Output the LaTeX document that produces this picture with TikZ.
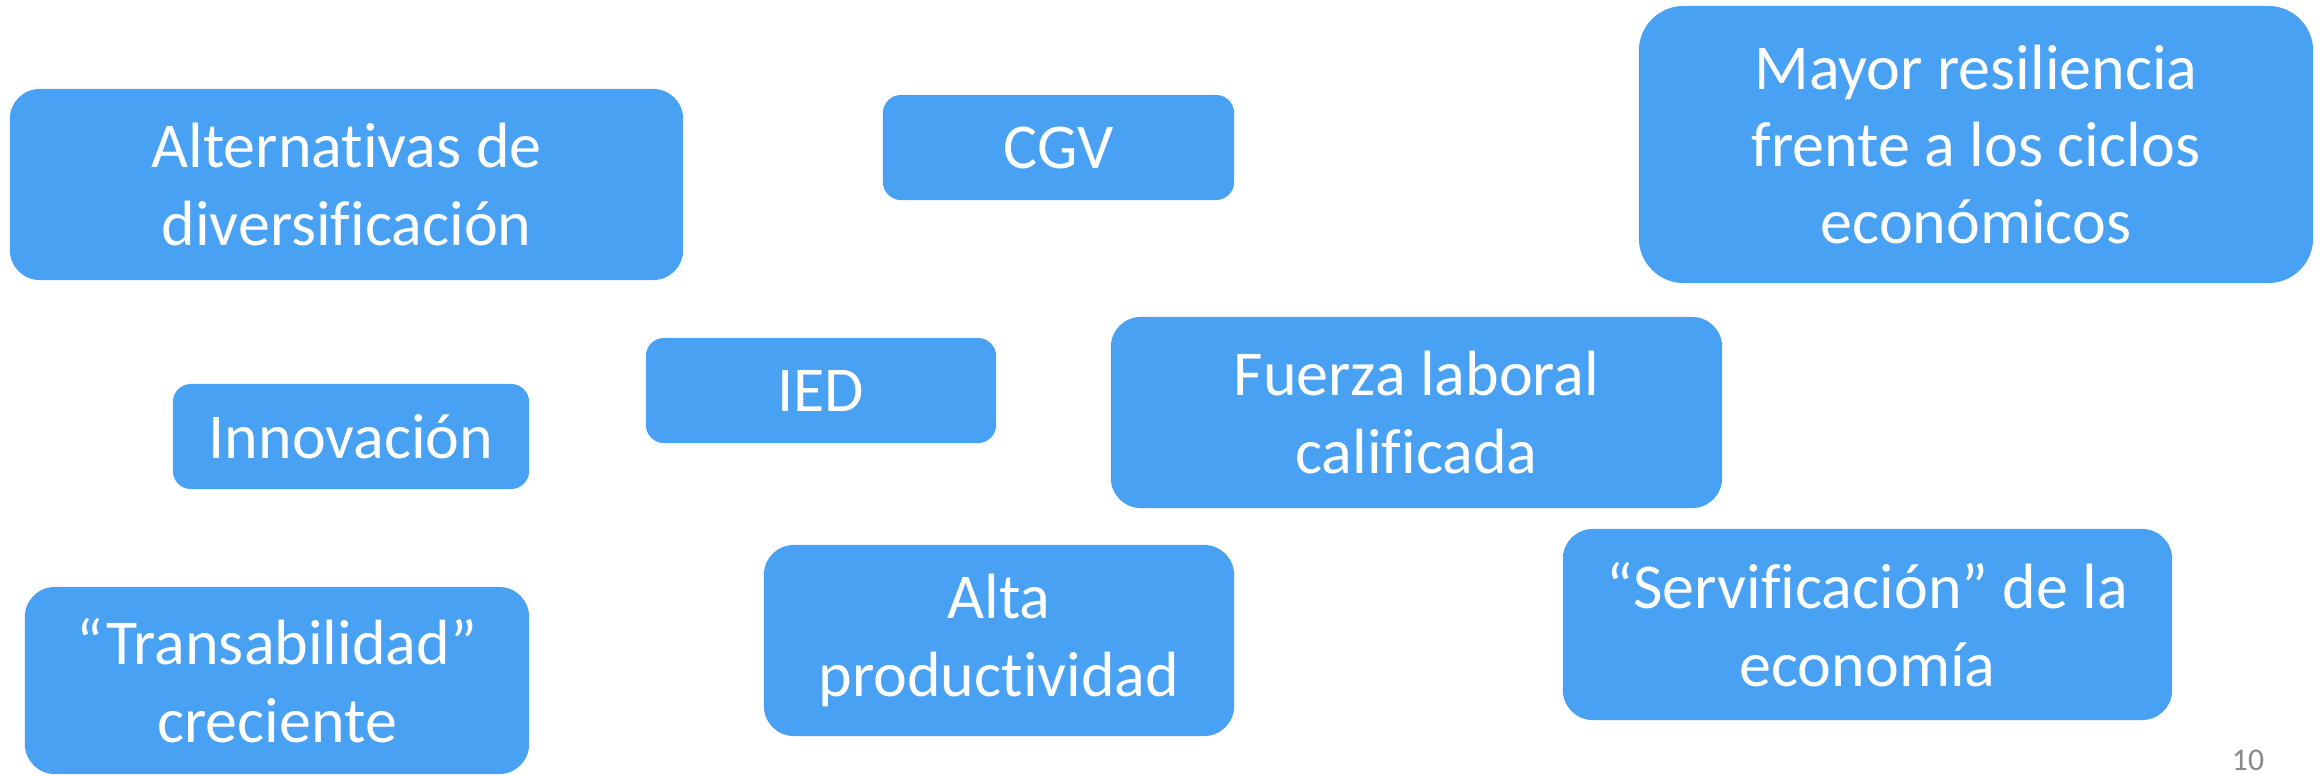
\documentclass[tikz,border=0pt]{standalone}
\usepackage{fontspec}
\setmainfont{Carlito}[Ligatures={NoCommon}]
\definecolor{boxblue}{RGB}{73,161,244}
\definecolor{pagegray}{RGB}{137,137,137}
\tikzset{
  bbox/.style={fill=boxblue, draw=none, text=white, align=center, inner sep=0pt,
    font=\fontsize{18.2}{22}\selectfont},
}
\begin{document}
\begin{tikzpicture}[x=0.01cm,y=-0.01cm]
\useasboundingbox (0,0) rectangle (2323,775);
\node[bbox, rounded corners=0.3cm, minimum width=6.73cm, minimum height=1.91cm] (alt) at (346.5,184.5) {Alternativas de\\diversificación};
\node[bbox, rounded corners=0.18cm, minimum width=3.51cm, minimum height=1.05cm] (cgv) at (1058.5,147.5) {CGV};
\node[bbox, rounded corners=0.45cm, minimum width=6.74cm, minimum height=2.77cm] (res) at (1976,144.5) {Mayor resiliencia\\frente a los ciclos\\económicos};
\node[bbox, rounded corners=0.18cm, minimum width=3.50cm, minimum height=1.05cm] (ied) at (821,390.5) {IED};
\node[bbox, rounded corners=0.18cm, minimum width=3.56cm, minimum height=1.05cm] (inn) at (351,436.5) {Innovación};
\node[bbox, rounded corners=0.3cm, minimum width=6.11cm, minimum height=1.91cm] (fue) at (1416.5,412.5) {Fuerza laboral\\calificada};
\node[bbox, rounded corners=0.3cm, minimum width=5.04cm, minimum height=1.87cm] (tra) at (277,680.5) {“Transabilidad”\\creciente};
\node[bbox, rounded corners=0.3cm, minimum width=4.70cm, minimum height=1.91cm] (pro) at (999,640.5) {Alta\\productividad};
\node[bbox, rounded corners=0.3cm, minimum width=6.09cm, minimum height=1.91cm] (ser) at (1867.5,624.5) {“Servificación” de la\\economía};
\node[text=pagegray, font=\fontsize{9}{10}\selectfont, inner sep=0pt] (pg) at (2248,760) {10};
\end{tikzpicture}
\end{document}
